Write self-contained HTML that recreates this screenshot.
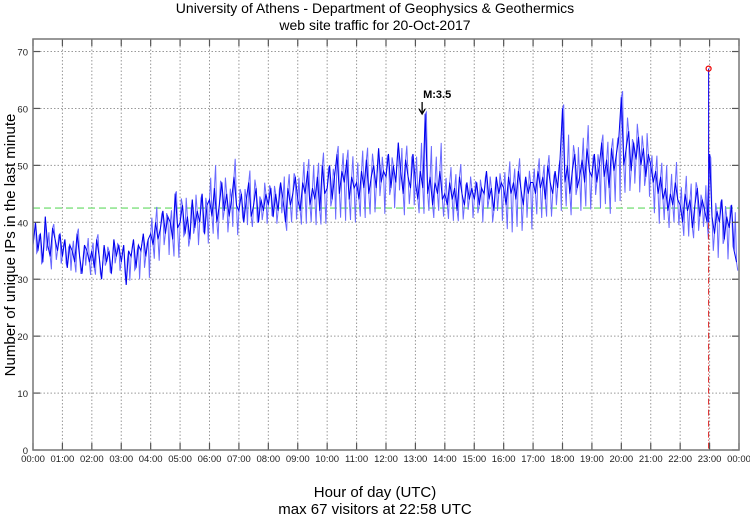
<!DOCTYPE html>
<html><head><meta charset="utf-8"><style>
html,body{margin:0;padding:0;background:#fff;width:750px;height:515px;overflow:hidden}
svg{display:block;font-family:"Liberation Sans",sans-serif}
</style></head><body>
<svg id="chart" width="750" height="515" viewBox="0 0 750 515">
<text x="375" y="13" text-anchor="middle" font-size="14">University of Athens - Department of Geophysics &amp; Geothermics</text>
<text x="375" y="30" text-anchor="middle" font-size="14">web site traffic for 20-Oct-2017</text>
<g id="grid"></g>
<g id="marks"></g>
<g id="axes"></g>
<text x="375" y="497" text-anchor="middle" font-size="15">Hour of day (UTC)</text>
<text id="maxlabel" x="375" y="514" text-anchor="middle" font-size="15">max 67 visitors at 22:58 UTC</text>
<text transform="translate(15,245) rotate(-90)" text-anchor="middle" font-size="15">Number of unique IPs in the last minute</text>
</svg>
<script>
const yTicks=[0,10,20,30,40,50,60,70];
const xTickLabels=["00:00","01:00","02:00","03:00","04:00","05:00","06:00","07:00","08:00","09:00","10:00","11:00","12:00","13:00","14:00","15:00","16:00","17:00","18:00","19:00","20:00","21:00","22:00","23:00","00:00"];
const meanLevel=42.5;
const quake={hour:13.33,label:"M:3.5"};
const maxValue=67;
const maxHour=22+58/60;
// visitors every 5 minutes
const visitors=[
36,40,35,38,33,41,36,34,39,37,35,38,
34,37,32,36,35,33,38,34,31,36,35,33,
35,32,37,34,30,36,33,35,31,37,34,36,
33,36,29,35,34,37,32,36,35,38,34,37,
38,36,40,37,39,42,38,41,40,37,45,39,
40,43,38,41,37,44,39,42,40,45,38,43,
44,41,46,40,43,47,42,45,41,44,48,43,
42,45,40,44,47,41,43,46,40,44,42,45,
43,46,41,45,42,47,44,40,46,43,45,48,
44,42,47,45,49,43,46,44,48,42,50,45,
46,50,44,48,52,45,49,47,51,44,48,46,
47,44,49,46,51,45,48,50,46,53,47,49,
48,52,46,50,47,54,49,45,51,48,46,52,
47,44,49,46,59,45,48,43,47,45,49,44,
45,43,47,44,46,42,48,45,43,47,44,46,
44,47,43,46,45,49,44,46,42,48,45,47,
46,43,48,45,47,44,49,46,43,48,45,47,
47,45,49,46,48,44,50,47,45,49,46,51,
60,47,50,45,49,52,46,48,51,47,53,49,
48,52,47,50,54,48,51,46,53,49,52,55,
62,50,53,56,49,54,51,55,50,53,48,52,
50,47,49,45,48,44,46,42,45,43,47,44,
43,40,45,42,44,39,43,46,41,44,42,40,
52,41,38,42,40,44,37,41,39,43,35,33];
// per-hour minute-level extremes
const hourlyHigh=[41,40,39,39,46,52,55,53,53,55,56,57,58,60,53,53,54,54,62,58,65,55,52,50];
const hourlyLow=[31,30,30,28,32,34,36,38,38,38,38,39,40,40,39,38,36,39,40,40,42,38,36,31];
const L=33,R=739,T=39,B=450,YMAX=72.2;
const xs=h=>L+(R-L)*h/24;
const ys=v=>B-(B-T)*v/YMAX;
const NS="http://www.w3.org/2000/svg";
function mk(tag,attrs,parent){const e=document.createElementNS(NS,tag);for(const k in attrs)e.setAttribute(k,attrs[k]);parent.appendChild(e);return e;}
const grid=document.getElementById('grid'),marks=document.getElementById('marks'),axes=document.getElementById('axes');
xTickLabels.forEach((t,i)=>{
 const x=xs(i);
 if(i>0&&i<24){const g=mk('line',{x1:x,x2:x,y1:T,y2:B,stroke:'#999','stroke-dasharray':'1.5,2','stroke-width':1},grid);
 
 }
 const a=mk('line',{x1:x,x2:x,y1:B,y2:B-7,stroke:'#555','stroke-width':1.2},axes);
 
 
 const b=mk('line',{x1:x,x2:x,y1:T,y2:T+7,stroke:'#555','stroke-width':1.2},axes);
 
 
 const tx=mk('text',{x:x,y:B+12,'text-anchor':'middle','font-size':9.5,fill:'#222'},axes);
 tx.textContent=t;
 
 
});
yTicks.forEach(v=>{
 const y=ys(v);
 if(v>0){const g=mk('line',{x1:L,x2:R,y1:y,y2:y,stroke:'#999','stroke-dasharray':'1.5,2','stroke-width':1},grid);
 
 }
 const a=mk('line',{x1:L,x2:L+7,y1:y,y2:y,stroke:'#555','stroke-width':1.2},axes);
 
 
 const b=mk('line',{x1:R,x2:R-7,y1:y,y2:y,stroke:'#555','stroke-width':1.2},axes);
 
 
 const tx=mk('text',{x:L-5,y:y+4,'text-anchor':'end','font-size':9.5,fill:'#222'},axes);
 tx.textContent=v;
 
 
});
const frame=mk('rect',{x:L,y:T,width:R-L,height:B-T,fill:'none',stroke:'#777','stroke-width':1.5},axes);


const mean=mk('line',{x1:L,x2:R,y1:ys(meanLevel),y2:ys(meanLevel),stroke:'#7ee07e','stroke-dasharray':'7,4','stroke-width':1.3},marks);


const step=24/visitors.length;
// minute-level jitter: zig-zag from each sample partway toward the hour's extreme
let zz=[];
visitors.forEach((v,i)=>{
 const h=Math.floor(i*step);
 const ext=(i%2===0)?hourlyHigh[h]:hourlyLow[h];
 const k=[0.35,0.6,0.45,0.75][i%4];
 zz.push(xs(i*step).toFixed(1)+','+ys(v).toFixed(1));
 zz.push(xs(i*step+step*0.5).toFixed(1)+','+ys(v+(ext-v)*k).toFixed(1));
});
const wh=mk('polyline',{points:zz.join(' '),stroke:'#6a6aff','stroke-width':1,fill:'none'},marks);


const pts=visitors.map((v,i)=>xs(i*step).toFixed(1)+','+ys(v).toFixed(1)).join(' ');
const line=mk('polyline',{points:pts,fill:'none',stroke:'#0000ee','stroke-width':1},marks);


const mx=xs(maxHour);
const vl=mk('line',{x1:mx,x2:mx,y1:ys(maxValue),y2:B,stroke:'#d22','stroke-dasharray':'6,2,1,2','stroke-width':1},marks);


const sp=mk('line',{x1:mx,x2:mx,y1:ys(maxValue),y2:ys(40),stroke:'#1010ff','stroke-width':1},marks);


const c=mk('circle',{cx:mx,cy:ys(maxValue),r:2.5,fill:'none',stroke:'#e00','stroke-width':1.2},marks);


const qx=xs(quake.hour)-3;
const ar=mk('path',{d:`M${qx},102 L${qx},114 M${qx-3},109 L${qx},114 L${qx+3},109`,stroke:'#000',fill:'none','stroke-width':1.3},marks);


const ql=mk('text',{x:qx+1,y:98,'font-size':11,'font-weight':'bold'},marks);
ql.textContent=quake.label;


</script>
</body></html>
